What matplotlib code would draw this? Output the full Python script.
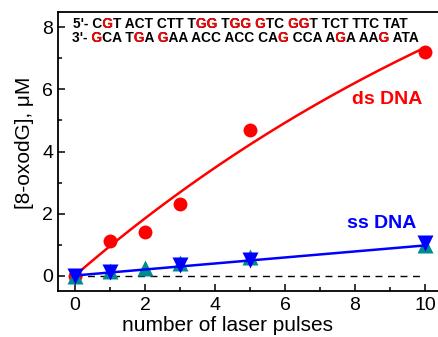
import numpy as np
import matplotlib
matplotlib.use("Agg")
import matplotlib.pyplot as plt
from matplotlib.transforms import Bbox

plt.rcParams['font.family'] = ['Liberation Sans', 'DejaVu Sans']

# ---- data ----
pulses_ds = [0, 1, 2, 3, 5, 10]
ds_dna = [0.0, 1.1, 1.4, 2.3, 4.7, 7.2]

pulses_ss_down = [0, 1, 3, 5, 10]
ss_dna_down = [0.0, 0.12, 0.33, 0.50, 1.05]

pulses_ss_up = [0, 1, 2, 3, 5, 10]
ss_dna_up = [0.0, 0.16, 0.24, 0.40, 0.60, 0.98]

# fit parameters
ds_fit_A, ds_fit_k = 16.3, 0.06
ss_fit_slope = 0.097

xticks = [0, 2, 4, 6, 8, 10]
yticks = [0, 2, 4, 6, 8]

# lowercase letters = red (damaged G sites)
seq_top = "5'- CgT ACT CTT Tgg Tgg gTC ggT TCT TTC TAT"
seq_bot = "3'- gCA TgA gAA ACC ACC CAg CCA AgA AAg ATA"

# ---- figure ----
W, H, DPI = 438, 337, 100
fig = plt.figure(figsize=(W / DPI, H / DPI), dpi=DPI)
L, R, B, T = 57.5, 442.5, 291, 12
ax = fig.add_axes([L / W, (H - B) / H, (R - L) / W, (B - T) / H])

ax.set_xlim(-0.5, 10.5)
ax.set_ylim(-0.5, 8.5)

xx = np.linspace(0, 10, 200)
ax.plot([0, 10], [0, 0], color='black', lw=1.0, ls=(0, (5, 4)), zorder=1)
ax.plot(xx, ds_fit_A * (1 - np.exp(-ds_fit_k * xx)), color='#ff0000', lw=1.8, zorder=2)
ax.plot(pulses_ds, ds_dna, 'o', color='#ff0000', ms=10, mec='none', zorder=3)
ax.plot(pulses_ss_up, ss_dna_up, '^', color='#008c8c', ms=11.5, mec='none', zorder=3)
ax.plot(pulses_ss_down, ss_dna_down, 'v', color='#0000ff', ms=11.5, mec='none', zorder=4)
ax.plot(xx, ss_fit_slope * xx, color='#0000ff', lw=1.8, zorder=5)

ax.set_xticks(xticks)
ax.set_yticks(yticks)
ax.set_xticks(np.arange(1, 10, 2), minor=True)
ax.set_yticks(np.arange(1, 9, 2), minor=True)
ax.tick_params(which='both', direction='in', width=1.1, labelsize=14, top=False, right=False)
ax.tick_params(which='major', length=5)
ax.tick_params(which='minor', length=3)
ax.tick_params(axis='x', pad=4)
ax.tick_params(axis='y', pad=3)
for s in ax.spines.values():
    s.set_linewidth(1.3)
ax.spines['right'].set_visible(False)

ax.set_xlabel("number of laser pulses", fontsize=15)
ax.set_ylabel("[8-oxodG], μM", fontsize=15)
ax.xaxis.set_label_coords(0.4416, -0.089)
ax.yaxis.set_label_coords(-0.062, 0.53)

ax.text(7.9, 5.52, "ds DNA", color='#ff0000', fontsize=14, fontweight='bold', va='baseline')
ax.text(7.77, 1.54, "ss DNA", color='#0000ff', fontsize=14, fontweight='bold', va='baseline')

# ---- two-colour sequence text ----
SEQ_FS = 9.9
renderer = fig.canvas.get_renderer()


def seq_line(s, xfrac, yfrac):
    plain = s.upper()
    t_black = ax.text(xfrac, yfrac, plain, transform=ax.transAxes, fontsize=SEQ_FS,
                      fontweight='bold', color='black', va='baseline', zorder=6)
    fp = t_black.get_fontproperties()
    x0, y0 = ax.transAxes.transform((xfrac, yfrac))
    for i, ch in enumerate(s):
        if ch.islower():
            left = renderer.get_text_width_height_descent(plain[:i], fp, ismath=False)[0] if i > 0 else 0
            right = renderer.get_text_width_height_descent(plain[:i + 1], fp, ismath=False)[0]
            a, b = x0 + left + 0.6, x0 + right + 1.0
            t_red = ax.text(xfrac, yfrac, plain, transform=ax.transAxes, fontsize=SEQ_FS,
                            fontweight='bold', color='#ff0000', va='baseline', zorder=7)
            t_red.set_clip_box(Bbox([[a, y0 - 8], [b, y0 + 20]]))
            t_red.set_clip_on(True)


seq_line(seq_top, (73 - L) / (R - L), (B - 28.3) / (B - T))
seq_line(seq_bot, (71.7 - L) / (R - L), (B - 41.7) / (B - T))

fig.savefig("out.png", dpi=DPI)
